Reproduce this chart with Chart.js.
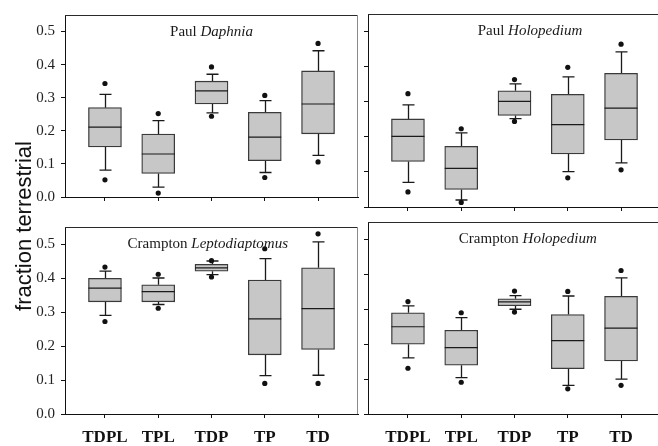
<!DOCTYPE html>
<html><head><meta charset="utf-8">
<script src="https://cdn.jsdelivr.net/npm/chart.js@4/dist/chart.umd.min.js"></script>
<style>
html,body{margin:0;padding:0;background:#fff;}
#wrap{position:relative;width:658px;height:446px;overflow:hidden;background:#fff;}
canvas{position:absolute;}
#ytitle{position:absolute;left:-76px;top:214px;width:200px;height:24px;line-height:24px;text-align:center;
  font-family:"Liberation Sans",Arial,sans-serif;font-size:22px;color:#111;transform:rotate(-90deg);white-space:nowrap;}
</style>
</head><body>
<div id="wrap">
  <canvas id="tl" width="362" height="212" style="left:0;top:0"></canvas>
  <canvas id="tr" width="310" height="212" style="left:362px;top:0"></canvas>
  <canvas id="bl" width="362" height="234" style="left:0;top:212px"></canvas>
  <canvas id="br" width="310" height="234" style="left:362px;top:212px"></canvas>
  <div id="ytitle">fraction terrestrial</div>
</div>
<script>
const categories = ['TDPL','TPL','TDP','TP','TD'];
const yTicks = [0, 0.1, 0.2, 0.3, 0.4, 0.5];

// Paul Daphnia
const pdOutLo = [0.052, 0.012, 0.244, 0.059, 0.106];
const pdWhLo  = [0.081, 0.030, 0.254, 0.074, 0.126];
const pdQ1    = [0.151, 0.071, 0.281, 0.110, 0.191];
const pdMed   = [0.211, 0.130, 0.321, 0.181, 0.281];
const pdQ3    = [0.270, 0.190, 0.350, 0.256, 0.381];
const pdWhHi  = [0.310, 0.231, 0.371, 0.291, 0.442];
const pdOutHi = [0.343, 0.252, 0.393, 0.307, 0.464];

// Paul Holopedium
const phOutLo = [0.043, 0.013, 0.244, 0.083, 0.106];
const phWhLo  = [0.070, 0.020, 0.252, 0.101, 0.126];
const phQ1    = [0.130, 0.050, 0.261, 0.151, 0.191];
const phMed   = [0.201, 0.110, 0.301, 0.235, 0.282];
const phQ3    = [0.251, 0.173, 0.331, 0.321, 0.381];
const phWhHi  = [0.291, 0.211, 0.351, 0.371, 0.442];
const phOutHi = [0.323, 0.223, 0.363, 0.398, 0.464];

// Crampton Leptodiaptomus
const clOutLo = [0.272, 0.311, 0.403, 0.090, 0.090];
const clWhLo  = [0.290, 0.322, 0.410, 0.113, 0.114];
const clQ1    = [0.330, 0.330, 0.420, 0.174, 0.190];
const clMed   = [0.370, 0.360, 0.430, 0.280, 0.310];
const clQ3    = [0.399, 0.380, 0.440, 0.394, 0.430];
const clWhHi  = [0.420, 0.400, 0.450, 0.457, 0.506];
const clOutHi = [0.432, 0.411, 0.451, 0.486, 0.530];

// Crampton Holopedium
const chOutLo = [0.131, 0.091, 0.292, 0.072, 0.082];
const chWhLo  = [0.161, 0.104, 0.300, 0.082, 0.100];
const chQ1    = [0.200, 0.140, 0.310, 0.130, 0.152];
const chMed   = [0.250, 0.190, 0.321, 0.210, 0.246];
const chQ3    = [0.290, 0.240, 0.330, 0.285, 0.337];
const chWhHi  = [0.310, 0.276, 0.339, 0.338, 0.390];
const chOutHi = [0.322, 0.290, 0.352, 0.351, 0.411];

const panels = {
  tl: {lake:'Paul ', taxon:'Daphnia', outLo:pdOutLo, whLo:pdWhLo, q1:pdQ1, med:pdMed, q3:pdQ3, whHi:pdWhHi, outHi:pdOutHi,
       titleX:2.0, padTop:14, padRight:4, yWidth:65, xHeight:5, showX:false, showY:true},
  tr: {lake:'Paul ', taxon:'Holopedium', outLo:phOutLo, whLo:phWhLo, q1:phQ1, med:phMed, q3:phQ3, whHi:phWhHi, outHi:phOutHi,
       titleX:2.29, padTop:14, padRight:11, yWidth:6, xHeight:5, showX:false, showY:false},
  bl: {lake:'Crampton ', taxon:'Leptodiaptomus', outLo:clOutLo, whLo:clWhLo, q1:clQ1, med:clMed, q3:clQ3, whHi:clWhHi, outHi:clOutHi,
       titleX:1.93, padTop:10, padRight:4, yWidth:65, xHeight:32, showX:true, showY:true},
  br: {lake:'Crampton ', taxon:'Holopedium', outLo:chOutLo, whLo:chWhLo, q1:chQ1, med:chMed, q3:chQ3, whHi:chWhHi, outHi:chOutHi,
       titleX:2.25, padTop:10, padRight:11, yWidth:6, xHeight:32, showX:true, showY:false}
};

const BOX_W = 33, CAP_W = 12;

const boxExtras = {
  id: 'boxExtras',
  beforeDatasetsDraw(chart) {
    const s = panels[chart.canvas.id];
    const {ctx, scales:{x, y}} = chart;
    ctx.save();
    ctx.strokeStyle = '#1a1a1a';
    ctx.lineWidth = 1.3;
    categories.forEach((c, i) => {
      const px = Math.round(x.getPixelForValue(i)) + 0.5;
      const yq1 = y.getPixelForValue(s.q1[i]), yq3 = y.getPixelForValue(s.q3[i]);
      const ylo = y.getPixelForValue(s.whLo[i]), yhi = y.getPixelForValue(s.whHi[i]);
      ctx.beginPath();
      ctx.moveTo(px, yq3); ctx.lineTo(px, yhi);
      ctx.moveTo(px - CAP_W/2, yhi); ctx.lineTo(px + CAP_W/2, yhi);
      ctx.moveTo(px, yq1); ctx.lineTo(px, ylo);
      ctx.moveTo(px - CAP_W/2, ylo); ctx.lineTo(px + CAP_W/2, ylo);
      ctx.stroke();
    });
    ctx.restore();
  },
  afterDatasetsDraw(chart) {
    const s = panels[chart.canvas.id];
    const {ctx, scales:{x, y}, chartArea:a} = chart;
    ctx.save();
    ctx.strokeStyle = '#1a1a1a';
    ctx.lineWidth = 1.2;
    categories.forEach((c, i) => {
      const px = x.getPixelForValue(i);
      const ym = y.getPixelForValue(s.med[i]);
      ctx.beginPath();
      ctx.moveTo(px - BOX_W/2, ym); ctx.lineTo(px + BOX_W/2, ym);
      ctx.stroke();
    });
    // frame: top and right
    ctx.lineWidth = 1;
    ctx.strokeStyle = '#2a2a2a';
    ctx.beginPath();
    ctx.moveTo(a.left, a.top + 0.5); ctx.lineTo(a.right, a.top + 0.5);
    ctx.stroke();
    ctx.strokeStyle = '#8a8a8a';
    ctx.beginPath();
    ctx.moveTo(a.right - 0.5, a.top); ctx.lineTo(a.right - 0.5, a.bottom);
    ctx.stroke();
    // panel title
    const cx = x.getPixelForValue(s.titleX);
    const ty = a.top + 17;
    ctx.fillStyle = '#1a1a1a';
    ctx.textBaseline = 'middle';
    ctx.textAlign = 'left';
    const fN = '15px "Liberation Serif", "Times New Roman", serif';
    const fI = 'italic 15px "Liberation Serif", "Times New Roman", serif';
    ctx.font = fN; const w1 = ctx.measureText(s.lake).width;
    ctx.font = fI; const w2 = ctx.measureText(s.taxon).width;
    const x0 = cx - (w1 + w2) / 2;
    ctx.font = fN; ctx.fillText(s.lake, x0, ty);
    ctx.font = fI; ctx.fillText(s.taxon, x0 + w1, ty);
    ctx.restore();
  }
};

function makePanel(id) {
  const s = panels[id];
  return new Chart(document.getElementById(id), {
    type: 'bar',
    data: {
      datasets: [
        {
          type: 'bar',
          data: categories.map((c, i) => ({x: i, y: [s.q1[i], s.q3[i]]})),
          backgroundColor: '#c7c7c7',
          borderColor: '#3a3a3a',
          borderWidth: 1.3,
          borderSkipped: false,
          barThickness: BOX_W,
          order: 2
        },
        {
          type: 'scatter',
          data: categories.flatMap((c, i) => [{x: i, y: s.outLo[i]}, {x: i, y: s.outHi[i]}]),
          pointRadius: 2.6,
          pointBackgroundColor: '#111',
          pointBorderWidth: 0,
          showLine: false,
          order: 1
        }
      ]
    },
    options: {
      responsive: false,
      animation: false,
      events: [],
      layout: {padding: {top: s.padTop, right: s.padRight, left: 0, bottom: 0}},
      plugins: {legend: {display: false}, tooltip: {enabled: false}, title: {display: false}},
      scales: {
        x: {
          type: 'linear', min: -0.75, max: 4.75, offset: false,
          afterBuildTicks: sc => { sc.ticks = categories.map((c, i) => ({value: i})); },
          afterFit: sc => { sc.height = s.xHeight; },
          grid: {display: true, offset: false, drawOnChartArea: false, drawTicks: true, tickLength: 4, color: '#111'},
          border: {display: true, color: '#111', width: 1},
          ticks: {display: s.showX, autoSkip: false, maxRotation: 0, padding: 9, color: '#111',
                  callback: v => categories[v],
                  font: {family: '"Liberation Serif", "Times New Roman", serif', size: 17, weight: 'bold'}}
        },
        y: {
          type: 'linear', min: 0, max: 0.55,
          afterBuildTicks: sc => { sc.ticks = yTicks.map(v => ({value: v})); },
          afterFit: sc => { sc.width = s.yWidth; },
          grid: {display: true, drawOnChartArea: false, drawTicks: true, tickLength: 4, color: '#111'},
          border: {display: true, color: '#111', width: 1},
          ticks: {display: s.showY, padding: 6, color: '#222',
                  callback: v => Number(v).toFixed(1),
                  font: {family: '"Liberation Serif", "Times New Roman", serif', size: 15}}
        }
      }
    },
    plugins: [boxExtras]
  });
}

['tl', 'tr', 'bl', 'br'].forEach(makePanel);
</script>
</body></html>
